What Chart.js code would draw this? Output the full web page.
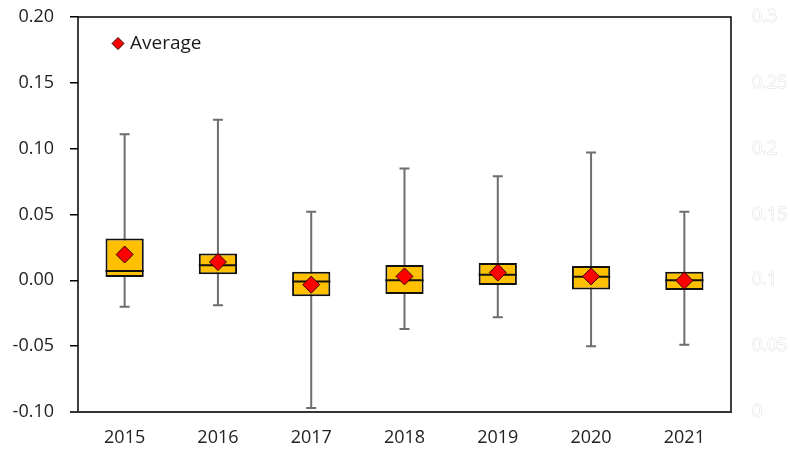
<!DOCTYPE html>
<html>
<head>
<meta charset="utf-8">
<script src="https://cdn.jsdelivr.net/npm/chart.js@4/dist/chart.umd.min.js"></script>
<style>
  html, body { margin: 0; padding: 0; background: #fff; }
  #wrap { width: 790px; height: 453px; }
</style>
</head>
<body>
<div id="wrap"><canvas id="c" width="790" height="453"></canvas></div>
<script>
// Yearly distribution summary
const years = ['2015', '2016', '2017', '2018', '2019', '2020', '2021'];
const whiskerLow  = [-0.020, -0.019, -0.097, -0.037, -0.028, -0.050, -0.049];
const quartile1   = [0.0025, 0.0046, -0.0120, -0.0104, -0.0036, -0.0069, -0.0074];
const medians     = [0.0071, 0.0114, -0.0008, 0.0000, 0.0043, 0.0028, 0.0000];
const quartile3   = [0.0317, 0.0203, 0.0066, 0.0117, 0.0132, 0.0109, 0.0066];
const whiskerHigh = [0.111, 0.122, 0.052, 0.085, 0.079, 0.097, 0.052];
const averages    = [0.0196, 0.0139, -0.0033, 0.0030, 0.0059, 0.0030, -0.0002];

const leftTicks  = ['-0.10', '-0.05', '0.00', '0.05', '0.10', '0.15', '0.20'];
const rightTicks = ['0', '0.05', '0.1', '0.15', '0.2', '0.25', '0.3'];

const FONT = '"Open Sans", "Noto Sans", sans-serif';

// Whiskers behind the boxes, median bars on top of them, frame and legend last
const boxPlotPlugin = {
  id: 'boxPlotExtras',
  beforeDatasetsDraw(chart) {
    const ctx = chart.ctx;
    const y = chart.scales.y;
    const meta = chart.getDatasetMeta(0);
    ctx.save();
    ctx.strokeStyle = '#6e6e6e';
    ctx.lineWidth = 2;
    meta.data.forEach((bar, i) => {
      const x = bar.x;
      const yLo = y.getPixelForValue(whiskerLow[i]);
      const yHi = y.getPixelForValue(whiskerHigh[i]);
      ctx.beginPath();
      ctx.moveTo(x, yLo); ctx.lineTo(x, yHi);
      ctx.moveTo(x - 5, yLo); ctx.lineTo(x + 5, yLo);
      ctx.moveTo(x - 5, yHi); ctx.lineTo(x + 5, yHi);
      ctx.stroke();
    });
    ctx.restore();
  },
  afterDatasetDraw(chart, args) {
    if (args.index !== 0) return;
    const ctx = chart.ctx;
    const y = chart.scales.y;
    ctx.save();
    ctx.strokeStyle = '#111';
    ctx.lineWidth = 2;
    args.meta.data.forEach((bar, i) => {
      const half = bar.width / 2;
      const ym = y.getPixelForValue(medians[i]);
      ctx.beginPath();
      ctx.moveTo(bar.x - half, ym);
      ctx.lineTo(bar.x + half, ym);
      ctx.stroke();
    });
    ctx.restore();
  },
  afterDraw(chart) {
    const ctx = chart.ctx;
    const a = chart.chartArea;
    ctx.save();
    // plot frame
    ctx.strokeStyle = '#000';
    ctx.lineWidth = 1.5;
    ctx.beginPath();
    ctx.moveTo(a.left, a.bottom);
    ctx.lineTo(a.left, a.top);
    ctx.lineTo(a.right, a.top);
    ctx.lineTo(a.right, a.bottom);
    ctx.stroke();
    ctx.strokeStyle = '#333';
    ctx.lineWidth = 2.2;
    ctx.beginPath();
    ctx.moveTo(a.left - 8, a.bottom);
    ctx.lineTo(a.right + 1, a.bottom);
    ctx.stroke();
    // legend
    const lx = a.left + 40, ly = a.top + 26.5;
    ctx.fillStyle = '#ff0000';
    ctx.strokeStyle = '#300000';
    ctx.lineWidth = 1;
    ctx.beginPath();
    ctx.moveTo(lx, ly - 6); ctx.lineTo(lx + 6, ly); ctx.lineTo(lx, ly + 6); ctx.lineTo(lx - 6, ly);
    ctx.closePath();
    ctx.fill(); ctx.stroke();
    ctx.fillStyle = '#1a1a1a';
    ctx.font = '19px ' + FONT;
    ctx.textBaseline = 'middle';
    ctx.textAlign = 'left';
    ctx.fillText('Average', lx + 12, ly + 0.5);
    ctx.restore();
  }
};

// vertical axes: fixed widths, no extra vertical overflow padding
const fixVertical = (w) => (s) => {
  s.width = w;
  s.paddingTop = 0;
  s.paddingBottom = 0;
};

new Chart(document.getElementById('c'), {
  data: {
    labels: years,
    datasets: [
      {
        type: 'bar',
        label: 'Box',
        data: years.map((_, i) => [quartile1[i], quartile3[i]]),
        backgroundColor: '#FFC000',
        borderColor: '#111',
        borderWidth: 2,
        borderSkipped: false,
        barPercentage: 0.41,
        categoryPercentage: 1,
        order: 2
      },
      {
        type: 'line',
        label: 'Average',
        data: averages,
        showLine: false,
        pointStyle: 'rectRot',
        pointRadius: 8.5,
        pointHoverRadius: 8.5,
        backgroundColor: '#FF0000',
        borderColor: '#300000',
        borderWidth: 1,
        order: 1
      }
    ]
  },
  options: {
    responsive: false,
    animation: false,
    events: [],
    layout: { padding: { top: 17, left: 0, right: 0, bottom: 0 } },
    plugins: {
      legend: { display: false },
      tooltip: { enabled: false }
    },
    scales: {
      x: {
        type: 'category',
        offset: true,
        grid: { display: false, drawTicks: false },
        border: { display: false },
        ticks: { font: { family: FONT, size: 18 }, color: '#222', padding: 15, maxRotation: 0 },
        afterFit: (s) => { s.height = 41; s.paddingLeft = 0; s.paddingRight = 0; }
      },
      y: {
        position: 'left',
        min: -0.1,
        max: 0.2,
        grid: { display: true, drawOnChartArea: false, drawTicks: true, tickLength: 8, color: '#000', lineWidth: 1.5 },
        border: { display: false },
        ticks: {
          stepSize: 0.05,
          font: { family: FONT, size: 18 },
          color: '#222',
          padding: 16,
          callback: (v, i) => leftTicks[i]
        },
        afterFit: fixVertical(78)
      },
      y2: {
        position: 'right',
        min: 0,
        max: 0.3,
        grid: { display: false, drawTicks: false },
        border: { display: false },
        ticks: {
          stepSize: 0.05,
          font: { family: FONT, size: 18 },
          color: '#ffffff',
          textStrokeColor: '#dedede',
          textStrokeWidth: 1,
          padding: 21,
          callback: (v, i) => rightTicks[i]
        },
        afterFit: fixVertical(59)
      }
    }
  },
  plugins: [boxPlotPlugin]
});
</script>
</body>
</html>
